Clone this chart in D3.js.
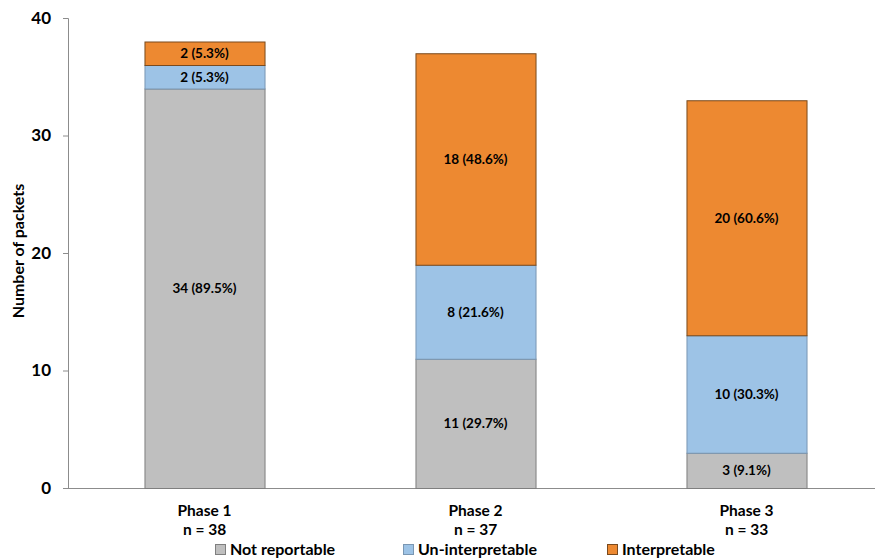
<!DOCTYPE html>
<html>
<head>
<meta charset="utf-8">
<script src="https://cdn.jsdelivr.net/npm/d3@7"></script>
<style>
  body { margin: 0; background: #fff; }
  text { font-family: Lato, "Open Sans", sans-serif; font-weight: bold; fill: #000; }
</style>
</head>
<body>
<svg id="chart" width="875" height="558"></svg>
<script>
var phases = ["Phase 1", "Phase 2", "Phase 3"];
var sizes = ["n = 38", "n = 37", "n = 33"];
var seriesNames = ["Not reportable", "Un-interpretable", "Interpretable"];
var notReportable = [34, 11, 3];
var unInterpretable = [2, 8, 10];
var interpretable = [2, 18, 20];
var notReportablePct = ["89.5%", "29.7%", "9.1%"];
var unInterpretablePct = ["5.3%", "21.6%", "30.3%"];
var interpretablePct = ["5.3%", "48.6%", "60.6%"];
var yTicks = [0, 10, 20, 30, 40];

var fills = ["#bfbfbf", "#9dc3e6", "#ed8931"];
var strokes = ["#7f7f7f", "#7a97b3", "#7a4a1e"];

var svg = d3.select("#chart");

var x = d3.scaleBand()
  .domain(phases)
  .range([69, 882])
  .paddingInner(0.557)
  .paddingOuter(0.2785);

var y = d3.scaleLinear().domain([0, 40]).range([488, 18]);

var rows = phases.map(function(p, i) {
  return {
    phase: p,
    "Not reportable": notReportable[i],
    "Un-interpretable": unInterpretable[i],
    "Interpretable": interpretable[i]
  };
});
var pcts = {
  "Not reportable": notReportablePct,
  "Un-interpretable": unInterpretablePct,
  "Interpretable": interpretablePct
};

var stacked = d3.stack().keys(seriesNames)(rows);

// y axis
var yAxis = d3.axisLeft(y).tickValues(yTicks).tickSize(5).tickPadding(12);
var ya = svg.append("g").attr("transform", "translate(68,0)").call(yAxis);
ya.select(".domain").attr("stroke", "#8c8c8c").attr("d", "M-5,18.5H0.5V488");
ya.selectAll(".tick line").attr("stroke", "#8c8c8c");
ya.selectAll(".tick text").style("font-size", "17px").attr("fill", "#000");

// x axis line
svg.append("line")
  .attr("x1", 63).attr("x2", 875)
  .attr("y1", y(0) + 0.5).attr("y2", y(0) + 0.5)
  .attr("stroke", "#8c8c8c");

// bars
var layers = svg.selectAll("g.layer")
  .data(stacked)
  .enter().append("g")
  .attr("class", "layer");

layers.selectAll("rect")
  .data(function(d, k) { return d.map(function(e) { e.k = k; e.key = d.key; return e; }); })
  .enter().append("rect")
  .attr("x", function(d) { return x(d.data.phase) + 0.5; })
  .attr("y", function(d) { return y(d[1]) + 0.5; })
  .attr("width", x.bandwidth())
  .attr("height", function(d) { return y(d[0]) - y(d[1]); })
  .attr("fill", function(d) { return fills[d.k]; })
  .attr("stroke", function(d) { return strokes[d.k]; })
  .attr("stroke-width", 1);

layers.selectAll("text")
  .data(function(d) { return d; })
  .enter().append("text")
  .attr("x", function(d) { return x(d.data.phase) + x.bandwidth() / 2; })
  .attr("y", function(d) { return (y(d[0]) + y(d[1])) / 2; })
  .attr("text-anchor", "middle")
  .attr("dy", "0.36em")
  .style("font-size", "13.5px")
  .text(function(d, i) { return (d[1] - d[0]) + " (" + pcts[d.key][i] + ")"; });

// category labels
var cats = svg.selectAll("g.cat")
  .data(phases)
  .enter().append("g")
  .attr("class", "cat");
cats.append("text")
  .attr("x", function(d) { return x(d) + x.bandwidth() / 2; })
  .attr("y", 511)
  .attr("dy", "0.35em")
  .attr("text-anchor", "middle")
  .style("font-size", "15.5px")
  .text(function(d) { return d; });
cats.append("text")
  .attr("x", function(d) { return x(d) + x.bandwidth() / 2; })
  .attr("y", 530)
  .attr("dy", "0.35em")
  .attr("text-anchor", "middle")
  .style("font-size", "15.5px")
  .text(function(d, i) { return sizes[i]; });

// y title
svg.append("text")
  .attr("transform", "translate(18,251) rotate(-90)")
  .attr("text-anchor", "middle")
  .attr("dy", "0.35em")
  .style("font-size", "16px")
  .text("Number of packets");

// legend
var legendX = [215, 403, 607];
var leg = svg.selectAll("g.legend")
  .data(seriesNames)
  .enter().append("g")
  .attr("class", "legend")
  .attr("transform", function(d, i) { return "translate(" + legendX[i] + ",544)"; });
leg.append("rect")
  .attr("x", 0.5).attr("y", 0.5)
  .attr("width", 10).attr("height", 10)
  .attr("fill", function(d, i) { return fills[i]; })
  .attr("stroke", function(d, i) { return strokes[i]; });
leg.append("text")
  .attr("x", 15)
  .attr("y", 5)
  .attr("dy", "0.35em")
  .style("font-size", "16px")
  .text(function(d) { return d; });
</script>
</body>
</html>
